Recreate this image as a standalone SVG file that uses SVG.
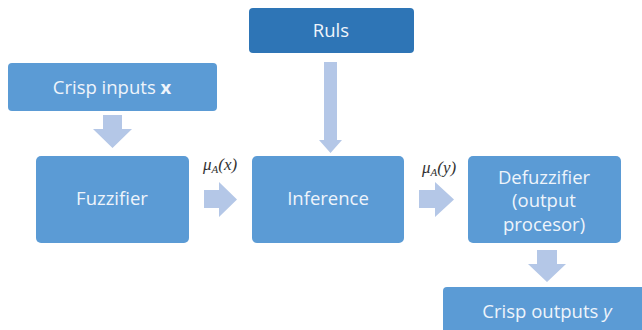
<svg xmlns="http://www.w3.org/2000/svg" width="642" height="330" viewBox="0 0 642 330">
<style>
.box{fill:#5b9bd5;}
.dark{fill:#2e75b6;}
.arr{fill:#b4c7e7;}
.t{font-family:"Open Sans","Liberation Sans",sans-serif;font-size:18.5px;fill:#eef4fb;text-anchor:middle;}
.m{font-family:"Liberation Serif","DejaVu Serif",serif;font-style:italic;font-size:17px;fill:#333;}
</style>
<rect width="642" height="330" fill="#ffffff"/>
<g id="connectors">
<path class="arr" d="M103,115 H122 V129 H132 L112.5,148 L93,129 H103 Z"/>
<path class="arr" d="M324,62 H337 V140 H342 L330.5,153 L319,140 H324 Z"/>
<path class="arr" d="M204,190 H219 V182 L237,199.5 L219,217 V208 H204 Z"/>
<path class="arr" d="M419,190 H435 V182 L454,199.5 L435,217 V208 H419 Z"/>
<path class="arr" d="M537,250 H557 V264 H566 L547,282 L528,264 H537 Z"/>
<text class="m" x="203" y="170">μ<tspan font-size="11" dy="3">A</tspan><tspan dy="-3">(x)</tspan></text>
<text class="m" x="422" y="173">μ<tspan font-size="11" dy="3">A</tspan><tspan dy="-3">(y)</tspan></text>
</g>
<g id="crisp-inputs">
<rect class="box" x="8" y="63" width="209" height="48" rx="4"/>
<text class="t" x="112" y="94">Crisp inputs <tspan font-weight="bold">x</tspan></text>
</g>
<g id="ruls">
<rect class="dark" x="249" y="8" width="165" height="45" rx="4"/>
<text class="t" x="331" y="37">Ruls</text>
</g>
<g id="fuzzifier">
<rect class="box" x="36" y="156" width="153" height="87" rx="5"/>
<text class="t" x="112" y="205">Fuzzifier</text>
</g>
<g id="inference">
<rect class="box" x="252" y="156" width="152" height="87" rx="5"/>
<text class="t" x="328" y="205">Inference</text>
</g>
<g id="defuzzifier">
<rect class="box" x="468" y="156" width="153" height="87" rx="5"/>
<text class="t" x="544" y="184">Defuzzifier</text>
<text class="t" x="544" y="207">(output</text>
<text class="t" x="544" y="231">procesor)</text>
</g>
<g id="crisp-outputs">
<rect class="box" x="443" y="287" width="210" height="50" rx="4"/>
<text class="t" x="547" y="318">Crisp outputs <tspan font-style="italic">y</tspan></text>
</g>
</svg>
